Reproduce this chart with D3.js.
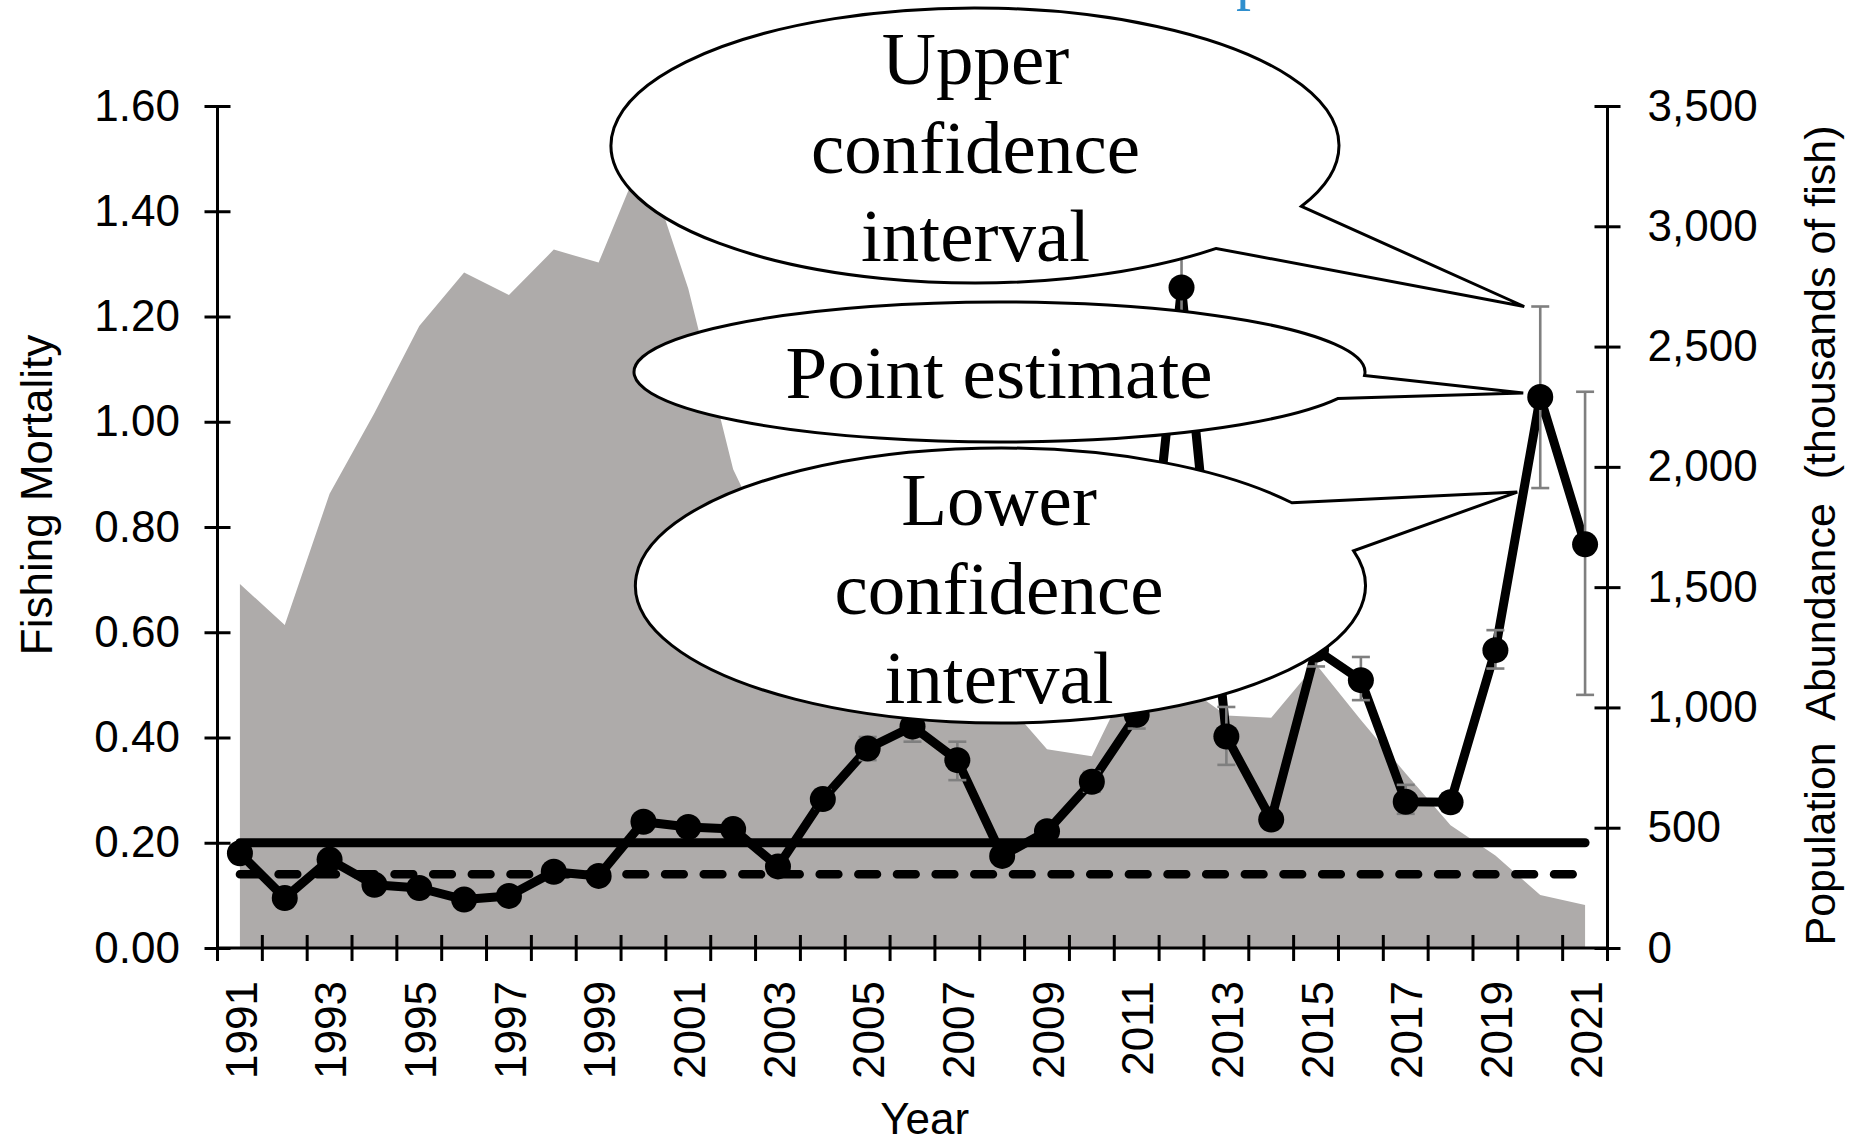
<!DOCTYPE html>
<html><head><meta charset="utf-8">
<script src="https://cdn.jsdelivr.net/npm/d3@7"></script>
<style>
html,body{margin:0;padding:0;background:#fff;}
svg{display:block;}
</style></head>
<body>
<svg id="chart" width="1854" height="1142"></svg>
<script>
// ---------------- DATA ----------------
const years = [1991,1992,1993,1994,1995,1996,1997,1998,1999,2000,2001,2002,2003,2004,2005,2006,2007,2008,2009,2010,2011,2012,2013,2014,2015,2016,2017,2018,2019,2020,2021];
const yearLabels = [1991,1993,1995,1997,1999,2001,2003,2005,2007,2009,2011,2013,2015,2017,2019,2021];
const fishingMortality = [0.180,0.095,0.168,0.120,0.114,0.092,0.099,0.145,0.137,0.240,0.230,0.226,0.155,0.283,0.379,0.421,0.357,0.175,0.222,0.316,0.443,1.255,0.402,0.244,0.567,0.509,0.278,0.277,0.566,1.047,0.767];
const fmLower = [0.170,0.088,0.158,0.112,0.106,0.085,0.092,0.136,0.128,0.226,0.217,0.213,0.145,0.266,0.357,0.392,0.319,0.163,0.208,0.297,0.417,1.180,0.348,0.229,0.535,0.471,0.255,0.260,0.531,0.874,0.481];
const fmUpper = [0.190,0.103,0.178,0.128,0.122,0.099,0.106,0.154,0.146,0.254,0.243,0.239,0.165,0.300,0.401,0.450,0.392,0.187,0.236,0.335,0.469,1.320,0.458,0.259,0.600,0.553,0.310,0.294,0.604,1.219,1.057];
const abundance = [1513,1343,1888,2224,2585,2808,2714,2903,2849,3300,2740,1990,1600,1380,1250,1160,1100,1040,826,797,1180,1100,966,957,1180,948,725,510,385,220,179];
const fTarget = 0.20;     // solid reference line
const fThreshold = 0.14;  // dashed reference line
const leftTicks = [0,0.2,0.4,0.6,0.8,1.0,1.2,1.4,1.6];
const rightTicks = [0,500,1000,1500,2000,2500,3000,3500];
const leftTitle = "Fishing Mortality";
const rightTitle = "Population  Abundance  (thousands of fish)";
const xTitle = "Year";
const calloutUpper = ["Upper","confidence","interval"];
const calloutPoint = ["Point estimate"];
const calloutLower = ["Lower","confidence","interval"];

// ---------------- LAYOUT ----------------
const svg = d3.select("#chart");
const plot = {left:217.5, right:1607.5, top:106, bottom:948};
const SANS = "'Liberation Sans', Arial, sans-serif";
const SERIF = "'Liberation Serif', 'Times New Roman', serif";
const AREA_FILL = "#aeabaa";

const x = d3.scaleBand().domain(years).range([plot.left, plot.right]).padding(0);
const xc = yr => x(yr) + x.bandwidth()/2;
const yL = d3.scaleLinear().domain([0,1.6]).range([plot.bottom, plot.top]);
const yR = d3.scaleLinear().domain([0,3500]).range([plot.bottom, plot.top]);

svg.append("rect").attr("width",1854).attr("height",1142).attr("fill","#fff");

// abundance area
const areaGen = d3.area().x((d,i)=>xc(years[i])).y0(yR(0)).y1(d=>yR(d));
svg.append("path").datum(abundance).attr("d", areaGen).attr("fill", AREA_FILL);

// reference lines
const first = years[0], last = years[years.length-1];
svg.append("line").attr("x1", xc(first)).attr("x2", xc(last))
  .attr("y1", yL(fTarget)).attr("y2", yL(fTarget))
  .attr("stroke","#000").attr("stroke-width",9).attr("stroke-linecap","round");
svg.append("line").attr("x1", xc(first)).attr("x2", xc(last))
  .attr("y1", yL(fThreshold)).attr("y2", yL(fThreshold))
  .attr("stroke","#000").attr("stroke-width",8.5).attr("stroke-linecap","round")
  .attr("stroke-dasharray","18.7,19.95");

// fishing mortality line
const lineGen = d3.line().x((d,i)=>xc(years[i])).y(d=>yL(d));
svg.append("path").datum(fishingMortality).attr("d", lineGen)
  .attr("fill","none").attr("stroke","#000").attr("stroke-width",9).attr("stroke-linejoin","round");

// error bars
const eb = svg.append("g").attr("stroke","#7f7f7f").attr("stroke-width",2.6);
years.forEach((yr,i)=>{
  const cxp = xc(yr);
  eb.append("line").attr("x1",cxp).attr("x2",cxp).attr("y1",yL(fmLower[i])).attr("y2",yL(fmUpper[i]));
  eb.append("line").attr("x1",cxp-9).attr("x2",cxp+9).attr("y1",yL(fmLower[i])).attr("y2",yL(fmLower[i]));
  eb.append("line").attr("x1",cxp-9).attr("x2",cxp+9).attr("y1",yL(fmUpper[i])).attr("y2",yL(fmUpper[i]));
});

// markers
svg.append("g").selectAll("circle").data(fishingMortality).join("circle")
  .attr("cx",(d,i)=>xc(years[i])).attr("cy",d=>yL(d)).attr("r",13).attr("fill","#000");

// ---------------- AXES ----------------
const gL = svg.append("g").attr("transform",`translate(${plot.left},0)`)
  .call(d3.axisLeft(yL).tickValues(leftTicks).tickFormat(d3.format(".2f")).tickSize(13).tickPadding(24.5));
gL.select(".domain").remove();
gL.selectAll(".tick line").attr("x1",13).attr("stroke","#000").attr("stroke-width",3);
gL.selectAll("text").attr("font-size",44).attr("font-family",SANS).attr("fill","#000");
svg.append("line").attr("x1",plot.left).attr("x2",plot.left).attr("y1",plot.top).attr("y2",plot.bottom)
  .attr("stroke","#000").attr("stroke-width",3);

const gR = svg.append("g").attr("transform",`translate(${plot.right},0)`)
  .call(d3.axisRight(yR).tickValues(rightTicks).tickFormat(d3.format(",")).tickSize(13).tickPadding(27));
gR.select(".domain").remove();
gR.selectAll(".tick line").attr("x1",-13).attr("stroke","#000").attr("stroke-width",3);
gR.selectAll("text").attr("font-size",44).attr("font-family",SANS).attr("fill","#000");
svg.append("line").attr("x1",plot.right).attr("x2",plot.right).attr("y1",plot.top).attr("y2",plot.bottom)
  .attr("stroke","#000").attr("stroke-width",3);

// bottom axis
svg.append("line").attr("x1",plot.left).attr("x2",plot.right).attr("y1",plot.bottom).attr("y2",plot.bottom)
  .attr("stroke","#000").attr("stroke-width",3);
const boundaries = years.map(yr=>x(yr)).concat([plot.right]);
svg.append("g").selectAll("line").data(boundaries).join("line")
  .attr("x1",d=>d).attr("x2",d=>d).attr("y1",plot.bottom-13).attr("y2",plot.bottom+13)
  .attr("stroke","#000").attr("stroke-width",3);
const gB = svg.append("g").attr("transform",`translate(0,${plot.bottom})`)
  .call(d3.axisBottom(x).tickValues(yearLabels).tickSize(0));
gB.select(".domain").remove();
gB.selectAll(".tick line").remove();
gB.selectAll("text").attr("font-size",44).attr("font-family",SANS).attr("fill","#000")
  .attr("transform","rotate(-90)").attr("x",-33).attr("y",0).attr("dy","0.38em")
  .style("text-anchor","end");

// axis titles
svg.append("text").attr("transform","translate(52,495) rotate(-90)")
  .attr("text-anchor","middle").attr("font-size",44).attr("font-family",SANS).attr("fill","#000")
  .text(leftTitle);
svg.append("text").attr("transform","translate(1835,535.5) rotate(-90)")
  .attr("text-anchor","middle").attr("font-size",43).attr("font-family",SANS).attr("fill","#000")
  .style("white-space","pre").attr("xml:space","preserve")
  .text(rightTitle);
svg.append("text").attr("x",924.6).attr("y",1134)
  .attr("text-anchor","middle").attr("font-size",44).attr("font-family",SANS).attr("fill","#000")
  .text(xTitle);

// ---------------- CALLOUTS ----------------
const i2020 = years.indexOf(2020);
const xTip = xc(2020);
const callouts = [
  {cx:975, cy:145.5, rx:364, ry:137.5, a1:0.458, a2:0.846,
   tip:[xTip-16, yL(fmUpper[i2020])], lines:calloutUpper, baselines:[84,173,261], tx:975.5},
  {cx:999.5, cy:372, rx:365.5, ry:70, a1:0.05, a2:0.389,
   tip:[xTip-17, yL(fishingMortality[i2020])-4], lines:calloutPoint, baselines:[398], tx:999},
  {cx:1000.4, cy:585.5, rx:365, ry:137.5, a1:-0.646, a2:-0.255,
   tip:[xTip-23, yL(fmLower[i2020])+4], lines:calloutLower, baselines:[525,614,703], tx:999}
];
const gc = svg.append("g");
callouts.forEach(c=>{
  const P = t => [c.cx + c.rx*Math.cos(t), c.cy + c.ry*Math.sin(t)];
  const p1 = P(c.a1), p2 = P(c.a2);
  const d = `M${p1[0]},${p1[1]} L${c.tip[0]},${c.tip[1]} L${p2[0]},${p2[1]} A${c.rx},${c.ry} 0 1 1 ${p1[0]},${p1[1]} Z`;
  gc.append("path").attr("d",d).attr("fill","#fff").attr("stroke","#000").attr("stroke-width",3).attr("stroke-linejoin","miter");
  c.lines.forEach((ln,k)=>{
    gc.append("text").attr("x",c.tx).attr("y",c.baselines[k]).attr("text-anchor","middle")
      .attr("font-family",SERIF).attr("font-size",75).attr("fill","#000").text(ln);
  });
});

// cut-off blue title glyph at the top edge
svg.append("text").attr("x",1236).attr("y",-2.3).attr("font-family",SERIF).attr("font-size",60)
  .attr("fill","#2f8fce").text("p");
</script>
</body></html>
